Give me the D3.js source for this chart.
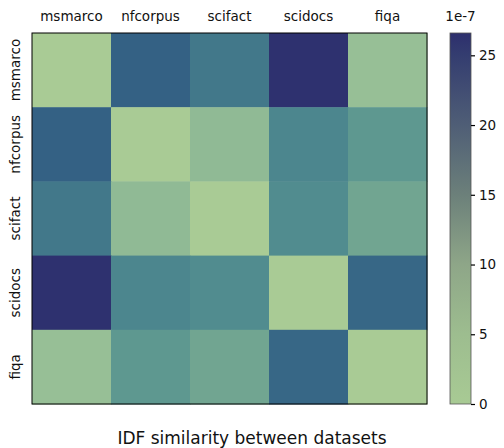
<!DOCTYPE html>
<html>
<head>
<meta charset="utf-8">
<script src="https://cdn.jsdelivr.net/npm/d3@7"></script>
<style>
  body { margin: 0; background: #fff; }
  text { font-family: "DejaVu Sans", sans-serif; fill: #111; }
</style>
</head>
<body>
<div id="chart"></div>
<script>
const datasets = ["msmarco", "nfcorpus", "scifact", "scidocs", "fiqa"];
// IDF similarity (x1e-7), rows follow datasets order
const rowMsmarco = [0, 19.3, 14.9, 26.6, 3.0];
const rowNfcorpus = [19.3, 0, 3.8, 12.5, 9.8];
const rowScifact = [14.9, 3.8, 0, 11.6, 7.5];
const rowScidocs = [26.6, 12.5, 11.6, 0, 18.0];
const rowFiqa = [3.0, 9.8, 7.5, 18.0, 0];
const colorbarTicks = [0, 5, 10, 15, 20, 25];

const matrix = [rowMsmarco, rowNfcorpus, rowScifact, rowScidocs, rowFiqa];

const svgWidth = 504, svgHeight = 448;
const margin = { top: 33, left: 32 };
const width = 395, height = 371;

const svg = d3.select("#chart").append("svg")
    .attr("width", svgWidth)
    .attr("height", svgHeight);

const cells = [];
matrix.forEach((row, i) => row.forEach((v, j) => cells.push({ row: datasets[i], col: datasets[j], value: v })));

const vmin = d3.min(cells, d => d.value);
const vmax = d3.max(cells, d => d.value);

// crest-like palette
const crest = ["#a9cb95", "#97bf96", "#7fae93", "#659e90", "#4f8a8f", "#42798a", "#376886", "#325a82", "#304679", "#2e316f"];
const color = d3.scaleLinear()
    .domain(crest.map((_, k) => vmin + (vmax - vmin) * k / (crest.length - 1)))
    .range(crest)
    .interpolate(d3.interpolateRgb);

const x = d3.scaleBand().domain(datasets).range([0, width]);
const y = d3.scaleBand().domain(datasets).range([0, height]);

const g = svg.append("g").attr("transform", `translate(${margin.left},${margin.top})`);

g.selectAll(".cell")
    .data(cells)
    .join("rect")
    .attr("class", "cell")
    .attr("x", d => x(d.col))
    .attr("y", d => y(d.row))
    .attr("width", x.bandwidth() + 0.5)
    .attr("height", y.bandwidth() + 0.5)
    .attr("fill", d => color(d.value));

g.append("rect")
    .attr("width", width)
    .attr("height", height)
    .attr("fill", "none")
    .attr("stroke", "#000")
    .attr("stroke-width", 1);

// top labels
g.selectAll(".xlab")
    .data(datasets)
    .join("text")
    .attr("class", "xlab")
    .attr("x", d => x(d) + x.bandwidth() / 2)
    .attr("y", -12)
    .attr("text-anchor", "middle")
    .style("font-size", "13.5px")
    .text(d => d);

// left labels
g.selectAll(".ylab")
    .data(datasets)
    .join("text")
    .attr("class", "ylab")
    .attr("transform", d => `translate(-12,${y(d) + y.bandwidth() / 2}) rotate(-90)`)
    .attr("text-anchor", "middle")
    .style("font-size", "13.5px")
    .text(d => d);

// title
svg.append("text")
    .attr("x", 252)
    .attr("y", 444)
    .attr("text-anchor", "middle")
    .style("font-size", "17px")
    .text("IDF similarity between datasets");

// colorbar
const cbX = 450, cbW = 21;
const cbScale = d3.scaleLinear().domain([vmin, vmax]).range([margin.top + height, margin.top]);
const cbStops = [
    [0, "#a8ca94"], [5, "#9dbd8f"], [10, "#8ea688"], [15, "#6c807a"],
    [20, "#4f5e76"], [25, "#343d70"], [vmax, "#2d2f6d"]
];
const grad = svg.append("defs").append("linearGradient")
    .attr("id", "cbgrad")
    .attr("x1", 0).attr("y1", 1).attr("x2", 0).attr("y2", 0);
grad.selectAll("stop")
    .data(cbStops)
    .join("stop")
    .attr("offset", d => (d[0] - vmin) / (vmax - vmin))
    .attr("stop-color", d => d[1]);

svg.append("rect")
    .attr("x", cbX)
    .attr("y", margin.top)
    .attr("width", cbW)
    .attr("height", height)
    .attr("fill", "url(#cbgrad)")
    .attr("stroke", "#555")
    .attr("stroke-width", 0.8);

const cbAxis = svg.append("g")
    .attr("transform", `translate(${cbX + cbW},0)`)
    .call(d3.axisRight(cbScale).tickValues(colorbarTicks).tickSize(4).tickPadding(4));
cbAxis.select(".domain").remove();
cbAxis.selectAll("line").attr("stroke", "#000").attr("stroke-width", 1.2);
cbAxis.selectAll("text")
    .style("font-size", "13.5px")
    .style("font-family", "\"DejaVu Sans\", sans-serif")
    .attr("fill", "#111");

svg.append("text")
    .attr("x", cbX + cbW / 2)
    .attr("y", 21)
    .attr("text-anchor", "middle")
    .style("font-size", "13.5px")
    .text("1e-7");
</script>
</body>
</html>
